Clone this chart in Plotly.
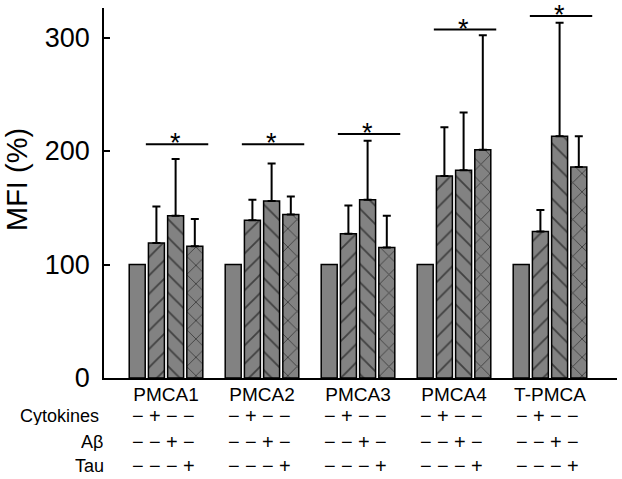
import plotly.graph_objects as go

# ---------------- data ----------------
categories = ["PMCA1", "PMCA2", "PMCA3", "PMCA4", "T-PMCA"]
control = [100, 100, 100, 100, 100]
cytokines = [119, 139, 127, 178, 129]
cytokines_err = [32, 18, 25, 43, 19]
abeta = [143, 156, 157, 183, 213]
abeta_err = [50, 33, 52, 51, 100]
tau = [116, 144, 115, 201, 186]
tau_err = [24, 16, 28, 101, 27]
sig_y = [206, 206, 215, 307, 319]

row_labels = ["Cytokines", "Aβ", "Tau"]
row_signs = [["−", "+", "−", "−"],
             ["−", "−", "+", "−"],
             ["−", "−", "−", "+"]]
y_ticks = [0, 100, 200, 300]

# ---------------- layout geometry ----------------
W, H = 622, 479
ML, MR, MT, MB = 104, 5, 8, 101
PW, PH = W - ML - MR, H - MT - MB
FONT = "Liberation Sans, Arial, Helvetica, sans-serif"
GRAY = "#828282"


def px(x):
    return (x - ML) / PW


def py(y):
    return (H - MB - y) / PH


xs = list(range(len(categories)))
fig = go.Figure()

series = [
    (control, None, ""),
    (cytokines, cytokines_err, "/"),
    (abeta, abeta_err, "\\"),
    (tau, tau_err, "x"),
]
for vals, err, shape in series:
    marker = dict(color=GRAY, line=dict(color="black", width=1.5))
    if shape:
        marker["pattern"] = dict(shape=shape, fgcolor="black", bgcolor=GRAY,
                                 size=13, solidity=0.14, fillmode="overlay")
    kw = {}
    if err is not None:
        kw["error_y"] = dict(type="data", array=err, symmetric=False,
                             arrayminus=[0] * len(err), color="black",
                             thickness=2, width=4)
    fig.add_trace(go.Bar(x=xs, y=vals, marker=marker, showlegend=False, **kw))

# significance lines and asterisks
for i, yv in enumerate(sig_y):
    fig.add_shape(type="line", xref="x", yref="y", x0=i - 0.21, x1=i + 0.44,
                  y0=yv, y1=yv, line=dict(color="black", width=2))
    fig.add_annotation(x=i + 0.1, y=yv, xref="x", yref="y", text="*",
                       showarrow=False, yanchor="bottom", yshift=-6,
                       height=20, valign="top",
                       font=dict(family=FONT, size=27, color="black"))

# condition rows
row_y = [416, 442, 466]
row_x = [101, 105, 106]
for r, lab in enumerate(row_labels):
    fig.add_annotation(x=px(row_x[r]), y=py(row_y[r]), xref="paper", yref="paper",
                       text=lab, showarrow=False, xanchor="right", yanchor="middle",
                       height=18,
                       font=dict(family=FONT, size=18, color="black"))
    for i in xs:
        for k, s in enumerate(row_signs[r]):
            fig.add_annotation(x=i - 0.03 + (k - 1.5) * 0.177, y=py(row_y[r]),
                               xref="x", yref="paper", text=s, showarrow=False,
                               xanchor="center", yanchor="middle", height=16,
                               font=dict(family=FONT, size=20, color="black"))

# y title
fig.add_annotation(x=px(17), y=py(180), xref="paper", yref="paper", text="MFI (%)",
                   textangle=-90, showarrow=False, xanchor="center", yanchor="middle",
                   font=dict(family=FONT, size=29, color="black"))

fig.update_layout(
    width=W, height=H,
    margin=dict(l=ML, r=MR, t=MT, b=MB, pad=0),
    paper_bgcolor="white", plot_bgcolor="white",
    barmode="group", bargap=0.2, bargroupgap=0.167,
    font=dict(family=FONT, color="black"),
)
fig.update_xaxes(range=[-0.646, 4.698], tickvals=xs, ticktext=categories,
                 showline=True, linecolor="black", linewidth=1.5, ticks="",
                 showgrid=False, zeroline=False, ticklabelstandoff=-2,
                 tickfont=dict(family=FONT, size=19, color="black"))
fig.update_yaxes(range=[0, 326], tickvals=y_ticks, showline=True, linecolor="black",
                 linewidth=1.5, ticks="inside", ticklen=6, tickwidth=1.5, tickcolor="black",
                 showgrid=False, zeroline=False, ticklabelstandoff=7,
                 tickfont=dict(family=FONT, size=27, color="black"))

fig.write_html("out.html")
